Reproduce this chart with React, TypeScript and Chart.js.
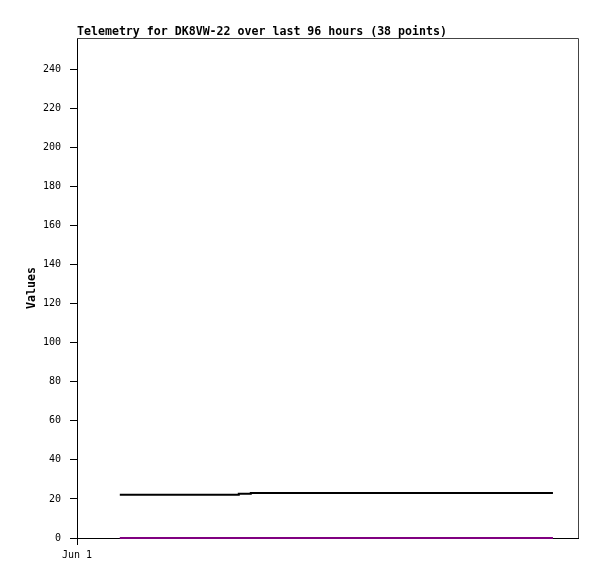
import React, { useEffect, useRef } from "react";
import { Chart, registerables } from "chart.js";

Chart.register(...registerables);

const titleText = "Telemetry for DK8VW-22 over last 96 hours (38 points)";
const yAxisTitle = "Values";
const xTickLabels = ["Jun 1"];
const xTickHours = [0];
const yTicks = [0, 20, 40, 60, 80, 100, 120, 140, 160, 180, 200, 220, 240];

// hours since Jun 1 00:00
const hours = [
  8.2, 10.4, 12.7, 14.9, 17.2, 19.4, 21.7, 23.9, 26.1, 28.4,
  31.0, 33.3, 35.1, 37.3, 39.6, 41.8, 44.1, 46.3, 48.6, 50.8,
  53.0, 55.3, 57.5, 59.8, 62.0, 64.2, 66.5, 68.7, 71.0, 73.2,
  75.5, 77.7, 79.9, 82.2, 84.4, 86.7, 88.9, 91.2,
];
const seriesBlack = [
  22.1, 22.1, 22.1, 22.1, 22.1, 22.1, 22.1, 22.1, 22.1, 22.1,
  22.6, 23.1, 23.1, 23.1, 23.1, 23.1, 23.1, 23.1, 23.1, 23.1,
  23.1, 23.1, 23.1, 23.1, 23.1, 23.1, 23.1, 23.1, 23.1, 23.1,
  23.1, 23.1, 23.1, 23.1, 23.1, 23.1, 23.1, 23.1,
];
const seriesPurple = [
  0, 0, 0, 0, 0, 0, 0, 0, 0, 0,
  0, 0, 0, 0, 0, 0, 0, 0, 0, 0,
  0, 0, 0, 0, 0, 0, 0, 0, 0, 0,
  0, 0, 0, 0, 0, 0, 0, 0,
];

const MONO = '"DejaVu Sans Mono", "Liberation Mono", monospace';

const decorPlugin = {
  id: "decor",
  beforeDatasetsDraw(chart: any) {
    const { ctx, chartArea } = chart;
    ctx.save();
    ctx.strokeStyle = "#444444";
    ctx.lineWidth = 1;
    ctx.beginPath();
    ctx.moveTo(chartArea.left, chartArea.top + 0.5);
    ctx.lineTo(chartArea.right + 0.5, chartArea.top + 0.5);
    ctx.lineTo(chartArea.right + 0.5, chartArea.bottom);
    ctx.stroke();
    ctx.restore();
  },
  afterDraw(chart: any) {
    const { ctx, chartArea } = chart;
    ctx.save();
    ctx.fillStyle = "#000";
    ctx.font = `bold 11.6px ${MONO}`;
    ctx.textBaseline = "alphabetic";
    ctx.textAlign = "left";
    ctx.fillText(titleText, 77, 35);
    ctx.translate(35, (chartArea.top + chartArea.bottom) / 2);
    ctx.rotate(-Math.PI / 2);
    ctx.textAlign = "center";
    ctx.fillText(yAxisTitle, 0, 0);
    ctx.restore();
  },
};

export default function App() {
  const ref = useRef<HTMLCanvasElement>(null);
  useEffect(() => {
    document.body.style.margin = "0";
    const chart = new Chart(ref.current!, {
      type: "line",
      data: {
        datasets: [
          {
            data: hours.map((h, i) => ({ x: h, y: seriesBlack[i] })),
            borderColor: "#000000",
            borderWidth: 2,
            pointRadius: 0,
            stepped: true,
            clip: false as any,
          },
          {
            data: hours.map((h, i) => ({ x: h, y: seriesPurple[i] })),
            borderColor: "#800080",
            borderWidth: 2,
            pointRadius: 0,
            stepped: true,
            clip: false as any,
          },
        ],
      },
      options: {
        animation: false,
        responsive: false,
        layout: { padding: { top: 38, right: 19, left: 0, bottom: 0 } },
        plugins: { legend: { display: false }, tooltip: { enabled: false }, title: { display: false } },
        scales: {
          x: {
            type: "linear",
            min: 0,
            max: 96,
            afterBuildTicks: (s: any) => {
              s.ticks = xTickHours.map((v) => ({ value: v }));
            },
            afterFit: (s: any) => {
              s.height = 41;
            },
            border: { display: true, color: "#000", width: 1, z: -1 } as any,
            grid: { display: true, drawOnChartArea: false, drawTicks: true, tickLength: 7, color: "#000" },
            ticks: {
              color: "#000",
              font: { family: MONO, size: 10 },
              padding: 4,
              maxRotation: 0,
              callback: (v: any) => {
                const i = xTickHours.indexOf(Number(v));
                return i >= 0 ? xTickLabels[i] : "";
              },
            },
          },
          y: {
            min: 0,
            max: 256,
            afterBuildTicks: (s: any) => {
              s.ticks = yTicks.map((v) => ({ value: v }));
            },
            afterFit: (s: any) => {
              s.width = 77;
            },
            border: { display: true, color: "#000", width: 1, z: -1 } as any,
            grid: { display: true, drawOnChartArea: false, drawTicks: true, tickLength: 7, color: "#000" },
            ticks: {
              color: "#000",
              font: { family: MONO, size: 10 },
              padding: 9,
            },
          },
        },
      },
      plugins: [decorPlugin],
    });
    return () => chart.destroy();
  }, []);
  return (
    <div style={{ position: "absolute", left: 0, top: 0, width: 597, height: 579, background: "#fff" }}>
      <canvas ref={ref} width={597} height={579} />
    </div>
  );
}
